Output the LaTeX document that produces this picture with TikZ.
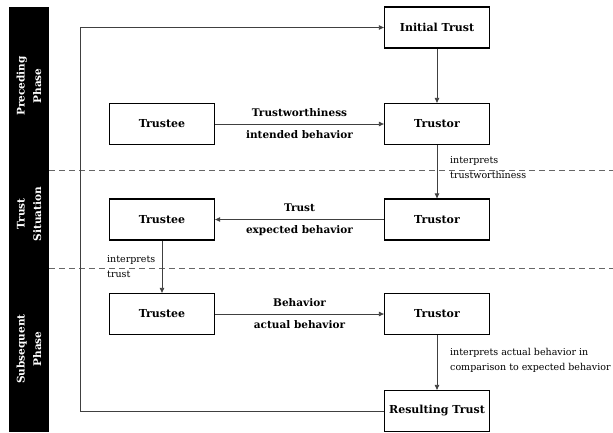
\documentclass[tikz,border=0pt]{standalone}
\usepackage{fontspec}
\setmainfont{DejaVu Serif}
\usetikzlibrary{arrows.meta}
\newcommand{\bw}{105pt}
\newcommand{\bh}{41pt}

\begin{document}
\begin{tikzpicture}[x=1pt,y=-1pt,
  box/.style={draw=black,line width=1.3pt,minimum width=\bw,minimum height=\bh,inner sep=0pt,font=\bfseries\fontsize{11}{12}\selectfont},
  flow/.style={draw=black!75,line width=0.8pt,-{Triangle[length=5pt,width=4.5pt]}},
  lbl/.style={inner sep=0pt,font=\bfseries\fontsize{10.5}{12}\selectfont},
  note/.style={inner sep=0pt,align=left,anchor=west,font=\fontsize{9.5}{15}\selectfont},
  phase/.style={rotate=90,text=white,align=center,inner sep=0pt,font=\bfseries\fontsize{10.5}{16.5}\selectfont},
  sep/.style={draw=black!60,line width=0.8pt,dash pattern=on 6pt off 4pt}]
\useasboundingbox (0,0) rectangle (613,432);
\fill[black] (9,7) rectangle (49,432);
% phase separators
\draw[sep] (49,170) -- (613,170);
\draw[sep] (49,268) -- (613,268);
\node[phase] (p1) at (29,86) {Preceding\\Phase};
\node[phase] (p2) at (29,214) {Trust\\Situation};
\node[phase] (p3) at (29,349) {Subsequent\\Phase};
% boxes
\node[box] (init) at (437,27.5) {Initial Trust};
\node[box] (tee1) at (162,124) {Trustee};
\node[box] (tor1) at (437,124) {Trustor};
\node[box] (tee2) at (162,219.5) {Trustee};
\node[box] (tor2) at (437,219.5) {Trustor};
\node[box] (tee3) at (162,314) {Trustee};
\node[box] (tor3) at (437,314) {Trustor};
\node[box] (res) at (437,411) {Resulting Trust};
% connectors
\draw[flow] (init) -- (tor1);
\draw[flow] (tee1) -- node[lbl,above=7pt]{Trustworthiness} node[lbl,below=6pt]{intended behavior} (tor1);
\draw[flow] (tor1) -- (tor2);
\draw[flow] (tor2) -- node[lbl,above=7pt]{Trust} node[lbl,below=6pt]{expected behavior} (tee2);
\draw[flow] (tee2) -- (tee3);
\draw[flow] (tee3) -- node[lbl,above=7pt]{Behavior} node[lbl,below=6pt]{actual behavior} (tor3);
\draw[flow] (tor3) -- (res);
\coordinate (lb) at (80,411);
\coordinate (lt) at (80,27.5);
\draw[flow] (res.west) -- (lb) -- (lt) -- (init.west);
% interpretation notes
\node[note] (n1) at (450,168) {interprets\\trustworthiness};
\node[note] (n2) at (107,267) {interprets\\trust};
\node[note] (n3) at (450,360) {interprets actual behavior in\\comparison to expected behavior};
\end{tikzpicture}
\end{document}
